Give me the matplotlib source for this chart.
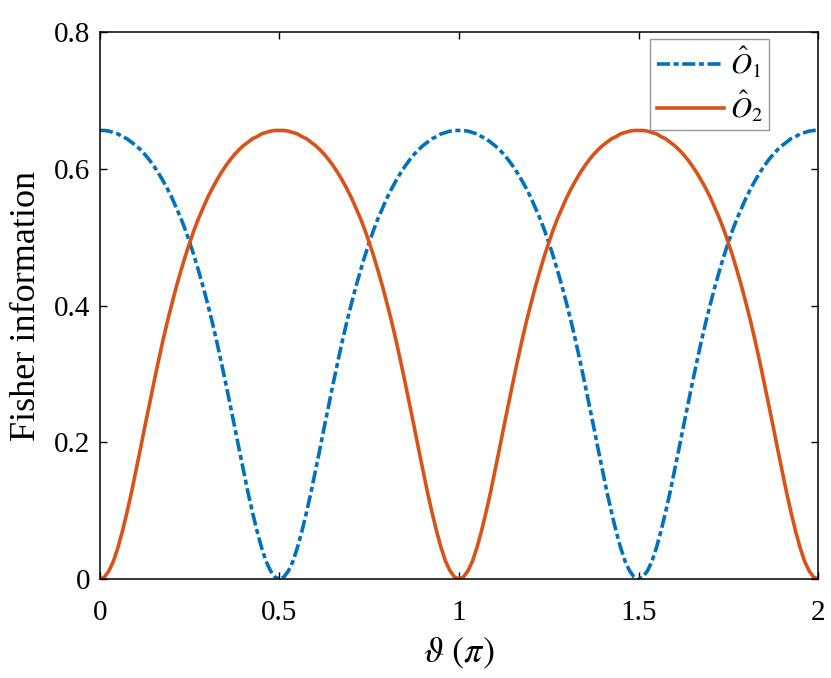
import matplotlib
matplotlib.use('Agg')
import matplotlib.pyplot as plt
import numpy as np

# theta in units of pi, sampled every 0.0125
theta = np.linspace(0, 2, 161)

fisher_o1 = [
    0.656, 0.656, 0.655, 0.653, 0.651, 0.647, 0.644, 0.639, 0.634, 0.628, 0.621,
    0.613, 0.604, 0.594, 0.583, 0.571, 0.558, 0.543, 0.528, 0.511, 0.492,
    0.472, 0.450, 0.427, 0.402, 0.376, 0.348, 0.318, 0.287, 0.255, 0.223,
    0.190, 0.158, 0.126, 0.097, 0.070, 0.046, 0.026, 0.012, 0.003, 0.000,
    0.003, 0.012, 0.026, 0.046, 0.070, 0.097, 0.126, 0.158, 0.190, 0.223,
    0.255, 0.287, 0.318, 0.348, 0.376, 0.402, 0.427, 0.450, 0.472, 0.492,
    0.511, 0.528, 0.543, 0.558, 0.571, 0.583, 0.594, 0.604, 0.613, 0.621,
    0.628, 0.634, 0.639, 0.644, 0.647, 0.651, 0.653, 0.655, 0.656, 0.656,
    0.656, 0.655, 0.653, 0.651, 0.647, 0.644, 0.639, 0.634, 0.628, 0.621,
    0.613, 0.604, 0.594, 0.583, 0.571, 0.558, 0.543, 0.528, 0.511, 0.492,
    0.472, 0.450, 0.427, 0.402, 0.376, 0.348, 0.318, 0.287, 0.255, 0.223,
    0.190, 0.158, 0.126, 0.097, 0.070, 0.046, 0.026, 0.012, 0.003, 0.000,
    0.003, 0.012, 0.026, 0.046, 0.070, 0.097, 0.126, 0.158, 0.190, 0.223,
    0.255, 0.287, 0.318, 0.348, 0.376, 0.402, 0.427, 0.450, 0.472, 0.492,
    0.511, 0.528, 0.543, 0.558, 0.571, 0.583, 0.594, 0.604, 0.613, 0.621,
    0.628, 0.634, 0.639, 0.644, 0.647, 0.651, 0.653, 0.655, 0.656, 0.656,
]

fisher_o2 = [
    0.000, 0.003, 0.012, 0.026, 0.046, 0.070, 0.097, 0.126, 0.158, 0.190, 0.223,
    0.255, 0.287, 0.318, 0.348, 0.376, 0.402, 0.427, 0.450, 0.472, 0.492,
    0.511, 0.528, 0.543, 0.558, 0.571, 0.583, 0.594, 0.604, 0.613, 0.621,
    0.628, 0.634, 0.639, 0.644, 0.647, 0.651, 0.653, 0.655, 0.656, 0.656,
    0.656, 0.655, 0.653, 0.651, 0.647, 0.644, 0.639, 0.634, 0.628, 0.621,
    0.613, 0.604, 0.594, 0.583, 0.571, 0.558, 0.543, 0.528, 0.511, 0.492,
    0.472, 0.450, 0.427, 0.402, 0.376, 0.348, 0.318, 0.287, 0.255, 0.223,
    0.190, 0.158, 0.126, 0.097, 0.070, 0.046, 0.026, 0.012, 0.003, 0.000,
    0.003, 0.012, 0.026, 0.046, 0.070, 0.097, 0.126, 0.158, 0.190, 0.223,
    0.255, 0.287, 0.318, 0.348, 0.376, 0.402, 0.427, 0.450, 0.472, 0.492,
    0.511, 0.528, 0.543, 0.558, 0.571, 0.583, 0.594, 0.604, 0.613, 0.621,
    0.628, 0.634, 0.639, 0.644, 0.647, 0.651, 0.653, 0.655, 0.656, 0.656,
    0.656, 0.655, 0.653, 0.651, 0.647, 0.644, 0.639, 0.634, 0.628, 0.621,
    0.613, 0.604, 0.594, 0.583, 0.571, 0.558, 0.543, 0.528, 0.511, 0.492,
    0.472, 0.450, 0.427, 0.402, 0.376, 0.348, 0.318, 0.287, 0.255, 0.223,
    0.190, 0.158, 0.126, 0.097, 0.070, 0.046, 0.026, 0.012, 0.003, 0.000,
]

x_ticks = [0, 0.5, 1, 1.5, 2]
x_ticklabels = ['0', '0.5', '1', '1.5', '2']
y_ticks = [0, 0.2, 0.4, 0.6, 0.8]
y_ticklabels = ['0', '0.2', '0.4', '0.6', '0.8']

plt.rcParams['font.family'] = ['Liberation Serif', 'DejaVu Serif']
plt.rcParams['mathtext.fontset'] = 'stix'

fig = plt.figure(figsize=(8.31, 6.78), dpi=100)
ax = fig.add_axes([0.1203, 0.1460, 0.8641, 0.8068])

ax.plot(theta, fisher_o1, color='#0072BD', lw=2.6,
        linestyle=(0, (3.6, 1.0, 1.4, 1.0)), label=r'$\hat{O}_1$')
ax.plot(theta, fisher_o2, color='#D95319', lw=2.6, label=r'$\hat{O}_2$')

ax.set_xlim(0, 2)
ax.set_ylim(0, 0.8)
ax.set_xticks(x_ticks)
ax.set_xticklabels(x_ticklabels)
ax.set_yticks(y_ticks)
ax.set_yticklabels(y_ticklabels)
ax.tick_params(direction='in', length=5, width=1, labelsize=21,
               top=True, right=True)
ax.tick_params(axis='y', pad=7)
ax.tick_params(axis='x', pad=15)
for s in ax.spines.values():
    s.set_linewidth(1.1)

ax.set_xlabel(r'$\vartheta\ (\pi)$', fontsize=26, labelpad=7)
ax.set_ylabel('Fisher information', fontsize=26, labelpad=8)

leg = ax.legend(loc='upper right', bbox_to_anchor=(0.932, 0.987),
                fontsize=21, frameon=True, fancybox=False,
                handlelength=2.3, handletextpad=0.2, borderpad=0.22,
                labelspacing=0.28, borderaxespad=0)
leg.get_frame().set_edgecolor('#7f7f7f')
leg.get_frame().set_linewidth(1.0)

fig.savefig('out.png', dpi=100)
